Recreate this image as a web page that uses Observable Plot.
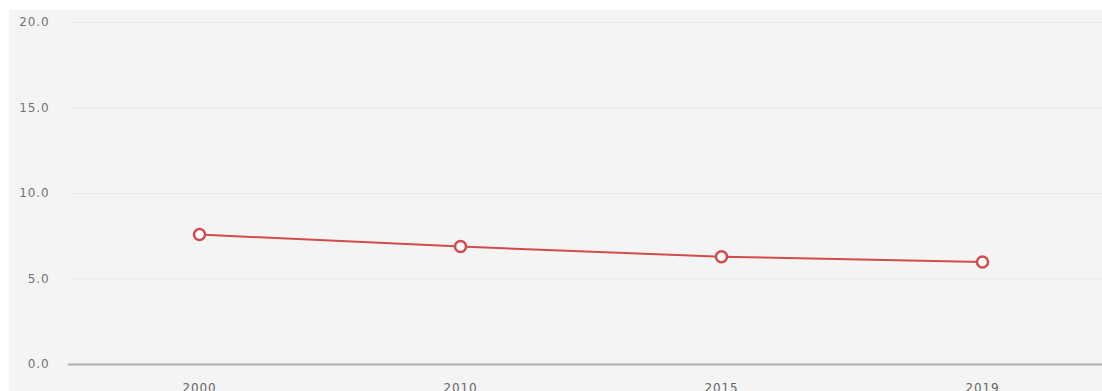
<!DOCTYPE html>
<html>
<head>
<meta charset="utf-8">
<script src="https://cdn.jsdelivr.net/npm/d3@7"></script>
<script src="https://cdn.jsdelivr.net/npm/@observablehq/plot@0.6"></script>
<style>
  html, body { margin: 0; padding: 0; background: #ffffff; overflow: hidden; }
  #wrap { padding: 10px 0 0 9px; }
  #wrap svg { display: block; background: #f4f4f4; }
  #wrap svg g[aria-label$="axis tick label"] text { letter-spacing: 0.9px; }
</style>
</head>
<body>
<div id="wrap"></div>
<script>
const years = ["2000", "2010", "2015", "2019"];
const values = [7.6, 6.9, 6.3, 6.0];
const yTicks = [0, 5, 10, 15, 20];

const data = years.map((y, i) => ({year: y, value: values[i]}));

const chart = Plot.plot({
  width: 1093,
  height: 381,
  marginLeft: 59,
  marginRight: -10,
  marginTop: 12,
  marginBottom: 27,
  style: {background: "#f4f4f4", fontFamily: "'DejaVu Sans', sans-serif", fontSize: "12px", color: "#777"},
  x: {type: "point", domain: years, padding: 0.5, label: null},
  y: {domain: [0, 20], label: null},
  marks: [
    Plot.ruleY(yTicks.filter(d => d > 0), {stroke: "#ebebeb", strokeWidth: 1}),
    Plot.axisY({ticks: yTicks, tickFormat: d => d.toFixed(1), tickSize: 0, tickPadding: 19, fill: "#737373", fontSize: 12}),
    Plot.axisX({tickSize: 0, tickPadding: 19, fill: "#666", fontSize: 12}),
    Plot.ruleY([0], {stroke: "#a9afb0", strokeWidth: 2}),
    Plot.line(data, {x: "year", y: "value", stroke: "#d24b4b", strokeWidth: 2}),
    Plot.dot(data, {x: "year", y: "value", r: 5.5, fill: "#ffffff", stroke: "#d24b4b", strokeWidth: 2.5})
  ]
});
document.getElementById("wrap").appendChild(chart);
</script>
</body>
</html>
